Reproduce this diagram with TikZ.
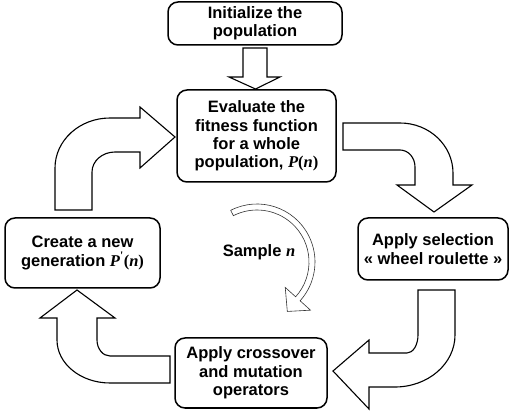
\documentclass[tikz,border=0pt]{standalone}
\usepackage{fontspec}
\setmainfont{Liberation Sans}
\newfontfamily\timesfont{Liberation Serif}
\newcommand{\stagefont}{\fontsize{16.5}{18.3}\selectfont\bfseries}
\newcommand{\popvar}[1]{{\timesfont\bfseries\itshape P}#1{\timesfont\bfseries(\itshape n\/\upshape)}}
\tikzset{
  stage/.style={draw, rounded corners=10pt, line width=1.5pt,
    align=center, inner sep=0pt, font=\stagefont},
  blockarrow/.style={draw, fill=white, line width=1.1pt, line join=miter},
  looparrow/.style={draw=black!80, fill=white, line width=0.6pt},
  looplabel/.style={font=\stagefont}
}

\begin{document}
\begin{tikzpicture}[x=1pt,y=-1pt]
  \useasboundingbox (0,0) rectangle (514,411);
  % stages of the loop
  \node[stage, minimum width=174pt, minimum height=43pt] (init) at (255,23.5)
    {Initialize the\\population};
  \node[stage, minimum width=159pt, minimum height=92pt] (eval) at (256.5,136)
    {Evaluate the\\fitness function\\for a whole\\population, \popvar{}};
  \node[stage, minimum width=150pt, minimum height=62pt] (sel) at (433,249)
    {Apply selection\\« wheel roulette »};
  \node[stage, minimum width=152pt, minimum height=70pt] (cross) at (251,373)
    {Apply crossover\\and mutation\\operators};
  \node[stage, minimum width=155pt, minimum height=70pt] (gen) at (82.5,253)
    {Create a new\\generation \popvar{\textsuperscript{\timesfont\bfseries '}}};
  \node[looplabel] (sample) at (259,252)
    {Sample {\timesfont\bfseries\itshape n}};
  % init -> eval
  \draw[blockarrow] (243,48) -- (267,48) -- (267,77) -- (280,77)
    -- (255.5,89) -- (229,77) -- (243,77) -- cycle;
  % eval -> sel
  \draw[blockarrow] (343,123) -- (400,123)
    .. controls (429.3,123) and (453,145.4) .. (453,173) -- (453,185)
    -- (472,185) -- (434,212) -- (397,185) -- (415,185) -- (415,167)
    .. controls (415,157.6) and (408.3,150) .. (400,150) -- (343,150) -- cycle;
  % sel -> cross
  \draw[blockarrow] (418,290) -- (455,290) -- (455,335)
    .. controls (455,363.7) and (428.1,387) .. (395,387) -- (369,387)
    -- (369,409) -- (333,371) -- (369,340) -- (369,353) -- (407,353)
    .. controls (413.1,353) and (418,344.9) .. (418,335) -- cycle;
  % cross -> gen
  \draw[blockarrow] (170,356) -- (110,356)
    .. controls (102.8,356) and (97,348.8) .. (97,340) -- (97,318)
    -- (115,318) -- (77,290) -- (40,318) -- (57,318) -- (57,340)
    .. controls (57,363.7) and (80.7,383) .. (110,383) -- (170,383) -- cycle;
  % gen -> eval
  \draw[blockarrow] (55,210) -- (55,168)
    .. controls (55,140.4) and (79.6,118) .. (110,118) -- (140,118)
    -- (140,107) -- (175,137) -- (140,168) -- (140,152) -- (115,152)
    .. controls (102.3,152) and (92,161) .. (92,172) -- (92,210) -- cycle;
  % sampling loop
  \begin{scope}[shift={(257,262)}]
    \draw[looparrow] (243:58) arc[start angle=243, end angle=402, radius=58]
      -- (402:72) -- (58.5:58) -- (402:38) -- (402:52)
      arc[start angle=402, end angle=243, radius=52] -- cycle;
  \end{scope}
\end{tikzpicture}
\end{document}
